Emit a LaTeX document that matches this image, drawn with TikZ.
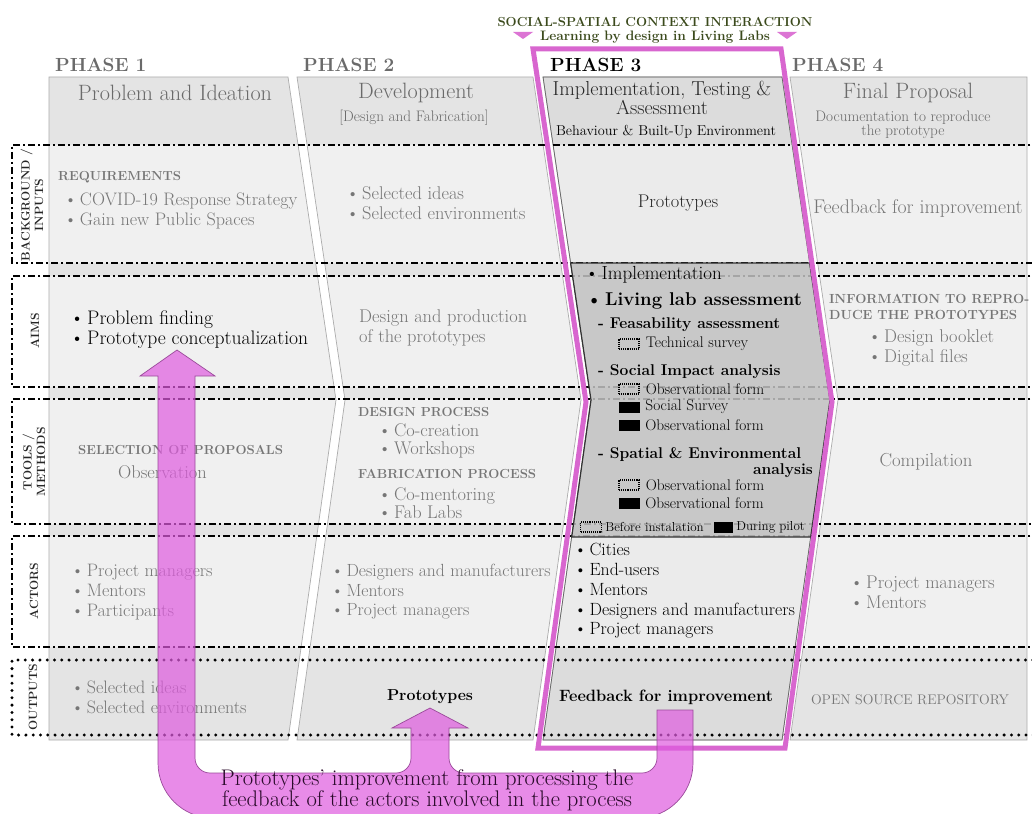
\documentclass[tikz,border=0pt]{standalone}
\usepackage{tikz}
\usepackage[dvipsnames, svgnames, x11names]{xcolor}
\usetikzlibrary{positioning}

\definecolor{panelfill}{HTML}{E4E4E4}
\definecolor{panelfillc}{HTML}{DCDCDC}
\definecolor{boxfill}{HTML}{C2C2C2}
\definecolor{textgray}{HTML}{767676}
\definecolor{headgray}{HTML}{6A6A6A}
\definecolor{titleolive}{HTML}{3B4A1C}
\definecolor{framepink}{HTML}{D866CF}
\definecolor{loopfill}{HTML}{DF5BDF}
\definecolor{loopedge}{HTML}{9A4A9A}
\definecolor{looptext}{HTML}{2A0A2A}
\newcommand{\tsize}[2]{\fontsize{#1}{#2}\selectfont}
\newcommand{\bul}{\textbullet\hspace{0.15em}}

\tikzset{
  rowline/.style={line width=1.6pt, dash pattern=on 7pt off 3pt on 2pt off 3pt},
  dotline/.style={line width=3.3pt, line cap=round, dash pattern=on 0pt off 7.3pt},
  rowlabel/.style={font=\bfseries\tsize{12}{13.5}, rotate=90, align=center, inner sep=0pt, text=black!85},
  phaselabel/.style={font=\bfseries\tsize{19}{20}, anchor=base west, inner sep=0pt, text=headgray},
  colhead/.style={font=\tsize{22.2}{20}, text=headgray, align=center, inner sep=0pt},
  colsub/.style={font=\tsize{15.2}{14}, text=headgray, align=center, inner sep=0pt},
  body/.style={font=\tsize{18.4}{20}, text=textgray, align=left, anchor=west, inner sep=0pt},
  caps/.style={font=\bfseries\tsize{13.1}{16}, text=textgray, align=left, anchor=west, inner sep=0pt},
  boxtext/.style={font=\tsize{15.4}{16}, anchor=west, inner sep=0pt, text=black},
  before/.style={draw, densely dotted, line width=1.1pt, minimum width=20pt, minimum height=10pt, inner sep=0pt},
  during/.style={fill=black, minimum width=21pt, minimum height=11pt, inner sep=0pt},
}

\begin{document}
\begin{tikzpicture}[x=1pt, y=-1pt]
\useasboundingbox (0,0) rectangle (1032,813);
\fill[white] (0,0) rectangle (1032,813);

% phase columns
\path[save path=\colall]
  (49,77) -- (288,77) -- (336,400) -- (288,740) -- (49,740) -- cycle
  (297,77) -- (533,77) -- (581,400) -- (533,740) -- (297,740) -- (345,400) -- cycle
  (543,77) -- (782,77) -- (830,400) -- (782,740) -- (543,740) -- (591,400) -- cycle
  (790,77) -- (1027,77) -- (1027,740) -- (790,740) -- (838,400) -- cycle;
\path[save path=\colthree]
  (543,77) -- (782,77) -- (830,400) -- (782,740) -- (543,740) -- (591,400) -- cycle;
\fill[use path=\colall, panelfill];
\fill[use path=\colthree, panelfillc];
\begin{scope}
  \clip[use path=\colall];
  \fill[white, opacity=0.45] (0,145) rectangle (1032,263) (0,276) rectangle (1032,387)
    (0,399) rectangle (1032,524) (0,536) rectangle (1032,647);
\end{scope}
\draw[use path=\colall, gray!65, line width=0.7pt];
\draw[use path=\colthree, gray!80!black, line width=0.7pt];

% rows
\draw[rowline] (1040,145) -- (12,145) -- (12,263) -- (1040,263);
\draw[rowline] (1040,276) -- (12,276) -- (12,387) -- (1040,387);
\draw[rowline] (1040,399) -- (12,399) -- (12,524) -- (1040,524);
\draw[rowline] (1040,536) -- (12,536) -- (12,647) -- (1040,647);
\draw[dotline] (1040,660) -- (12,660) -- (12,735) -- (1040,735);

% living lab box
\draw[fill=boxfill, fill opacity=0.85, draw=black!80, line width=1.2pt]
  (570.6,263) -- (809.6,263) -- (830,400) -- (810.7,537) -- (571.7,537) -- (591,400) -- cycle;

% phase 3 frame
\draw[framepink, line width=5pt] (533,49) -- (586,402) -- (538,748) -- (785,748) -- (832,402) -- (781,49) -- cycle;

% title
\node[font=\bfseries\tsize{13.1}{14}, text=titleolive, inner sep=0pt] (title) at (655,22) {SOCIAL-SPATIAL CONTEXT INTERACTION};
\node[font=\bfseries\tsize{13.7}{14}, text=titleolive, inner sep=0pt] (subtitle) at (655,37) {Learning by design in Living Labs};
\fill[framepink!90!white] (513,32) -- (533,32) -- (523,39) -- cycle;
\fill[framepink!90!white] (777,32) -- (797,32) -- (787,39) -- cycle;

% headers
\node[phaselabel] (ph1) at (55,72) {PHASE 1};
\node[phaselabel] (ph2) at (303,72) {PHASE 2};
\node[phaselabel, text=black] (ph3) at (550,72) {PHASE 3};
\node[phaselabel] (ph4) at (792,72) {PHASE 4};
\node[colhead] (h1) at (175,93) {Problem and Ideation};
\node[colhead] (h2) at (416,93) {Development};
\node[colsub] (s2) at (414,118) {[Design and Fabrication]};
\node[colhead, font=\tsize{20.2}{17}, text=black!85] (h3) at (662,98) {Implementation, Testing \&\\Assessment};
\node[colsub, font=\tsize{14.3}{14}, text=black] (s3) at (666,132) {Behaviour \& Built-Up Environment};
\node[colhead] (h4) at (908,93) {Final Proposal};
\node[colsub] (s4) at (903,125) {Documentation to reproduce\\the prototype};

% row labels
\node[rowlabel] (lbg) at (32,205) {BACKGROUND /\\INPUTS};
\node[rowlabel] (laim) at (35,331) {AIMS};
\node[rowlabel] (ltool) at (34,462) {TOOLS /\\METHODS};
\node[rowlabel] (lact) at (34,591) {ACTORS};
\node[rowlabel] (lout) at (33,697) {OUTPUTS};

% background / inputs
\node[caps] (req) at (58,177) {REQUIREMENTS};
\node[body, font=\tsize{18.1}{20}] (p1bg) at (64,211) {\bul COVID-19 Response Strategy\\\bul Gain new Public Spaces};
\node[body] (p2bg) at (346,203) {\bul Selected ideas\\\bul Selected environments};
\node[body, text=black!85, anchor=center] (p3bg) at (678,203) {Prototypes};
\node[body, font=\tsize{19.8}{20}, anchor=center] (p4bg) at (918,208) {Feedback for improvement};

% aims
\node[body, font=\tsize{19.6}{20}, text=black] (p1aim) at (70,330) {\bul Problem finding\\\bul Prototype conceptualization};
\node[body] (p2aim) at (359,328) {Design and production\\of the prototypes};
\node[caps, font=\bfseries\tsize{13.2}{16}] (p4info) at (829,307) {INFORMATION TO REPRO-\\DUCE THE PROTOTYPES};
\node[body] (p4aim) at (868,348) {\bul Design booklet\\\bul Digital files};

% living lab assessment
\node[body, text=black, font=\tsize{19}{20}] (impl) at (585,275) {\bul Implementation};
\node[body, text=black, font=\bfseries\tsize{18.5}{20}] (lla) at (586,301) {\bul Living lab assessment};
\node[body, text=black, font=\bfseries\tsize{15.6}{17}] (feas) at (598,325) {- Feasability assessment};
\node[before] (k1) at (629,344) {};
\node[boxtext, right=6pt of k1] (t1) {Technical survey};
\node[body, text=black, font=\bfseries\tsize{15.6}{17}] (soc) at (598,372) {- Social Impact analysis};
\node[before] (k2) at (629,389) {};
\node[boxtext, right=6pt of k2] (t2) {Observational form};
\node[during] (k3) at (629,407) {};
\node[boxtext, right=5.5pt of k3] (t3) {Social Survey};
\node[during] (k4) at (629,425) {};
\node[boxtext, right=5.5pt of k4] (t4) {Observational form};
\node[body, text=black, font=\bfseries\tsize{15.6}{17}] (spa) at (598,455) {- Spatial \& Environmental};
\node[body, text=black, font=\bfseries\tsize{15.6}{17}, anchor=east] (spb) at (813,471) {analysis};
\node[before] (k5) at (629,485) {};
\node[boxtext, right=6pt of k5] (t5) {Observational form};
\node[during] (k6) at (629,503) {};
\node[boxtext, right=5.5pt of k6] (t6) {Observational form};
\node[before, minimum width=21pt] (kb) at (591,527) {};
\node[boxtext, font=\tsize{13}{14}, right=3pt of kb] (tb) {Before instalation};
\node[during, minimum width=19pt] (kd) at (723.5,527) {};
\node[boxtext, font=\tsize{13}{14}, right=3pt of kd] (td) {During pilot};

% tools / methods
\node[caps] (sel) at (78,450) {SELECTION OF PROPOSALS};
\node[body] (obs) at (118,472) {Observation};
\node[caps] (dp) at (358,412) {DESIGN PROCESS};
\node[body, font=\tsize{18.4}{18}] (dpl) at (378,441) {\bul Co-creation\\\bul Workshops};
\node[caps] (fp) at (358,474) {FABRICATION PROCESS};
\node[body, font=\tsize{18.4}{18}] (fpl) at (378,503) {\bul Co-mentoring\\\bul Fab Labs};
\node[body, font=\tsize{18.8}{20}, anchor=center] (comp) at (926,462) {Compilation};

% actors
\node[body, font=\tsize{18}{19.8}] (p1act) at (71,592) {\bul Project managers\\\bul Mentors\\\bul Participants};
\node[body, font=\tsize{17.6}{19.5}] (p2act) at (331,592) {\bul Designers and manufacturers\\\bul Mentors\\\bul Project managers};
\node[body, font=\tsize{17.7}{19.7}, text=black] (p3act) at (574,591) {\bul Cities\\\bul End-users\\\bul Mentors\\\bul Designers and manufacturers\\\bul Project managers};
\node[body] (p4act) at (850,592) {\bul Project managers\\\bul Mentors};

% outputs
\node[body, font=\tsize{18}{20}] (p1out) at (71,697) {\bul Selected ideas\\\bul Selected environments};
\node[font=\bfseries\tsize{15.9}{17}, text=black, inner sep=0pt] (p2out) at (430,697) {Prototypes};
\node[font=\bfseries\tsize{16.4}{17}, text=black, inner sep=0pt] (p3out) at (666,697) {Feedback for improvement};
\node[font=\tsize{14}{15}, text=textgray, inner sep=0pt] (p4out) at (910,700) {OPEN SOURCE REPOSITORY};

% feedback loop
\draw[fill=loopfill, fill opacity=0.7, draw=loopedge, line width=0.7pt]
  (177,350) -- (215,376) -- (195,376) [rounded corners=15pt] -- (195,773) -- (411,773)
  [sharp corners] -- (411,728) -- (392,728) -- (430,708) -- (468,728) -- (449,728)
  [rounded corners=15pt] -- (449,773) -- (657,773) [sharp corners] -- (657,710) -- (693,710)
  [rounded corners=55pt] -- (693,818) -- (158,818) [sharp corners] -- (158,376) -- (140,376) -- cycle;
\node[font=\tsize{22.6}{17}, text=looptext, align=center, inner sep=0pt] (looptxt) at (427,790)
  {Prototypes’ improvement from processing the\\feedback of the actors involved in the process};

\end{tikzpicture}
\end{document}
